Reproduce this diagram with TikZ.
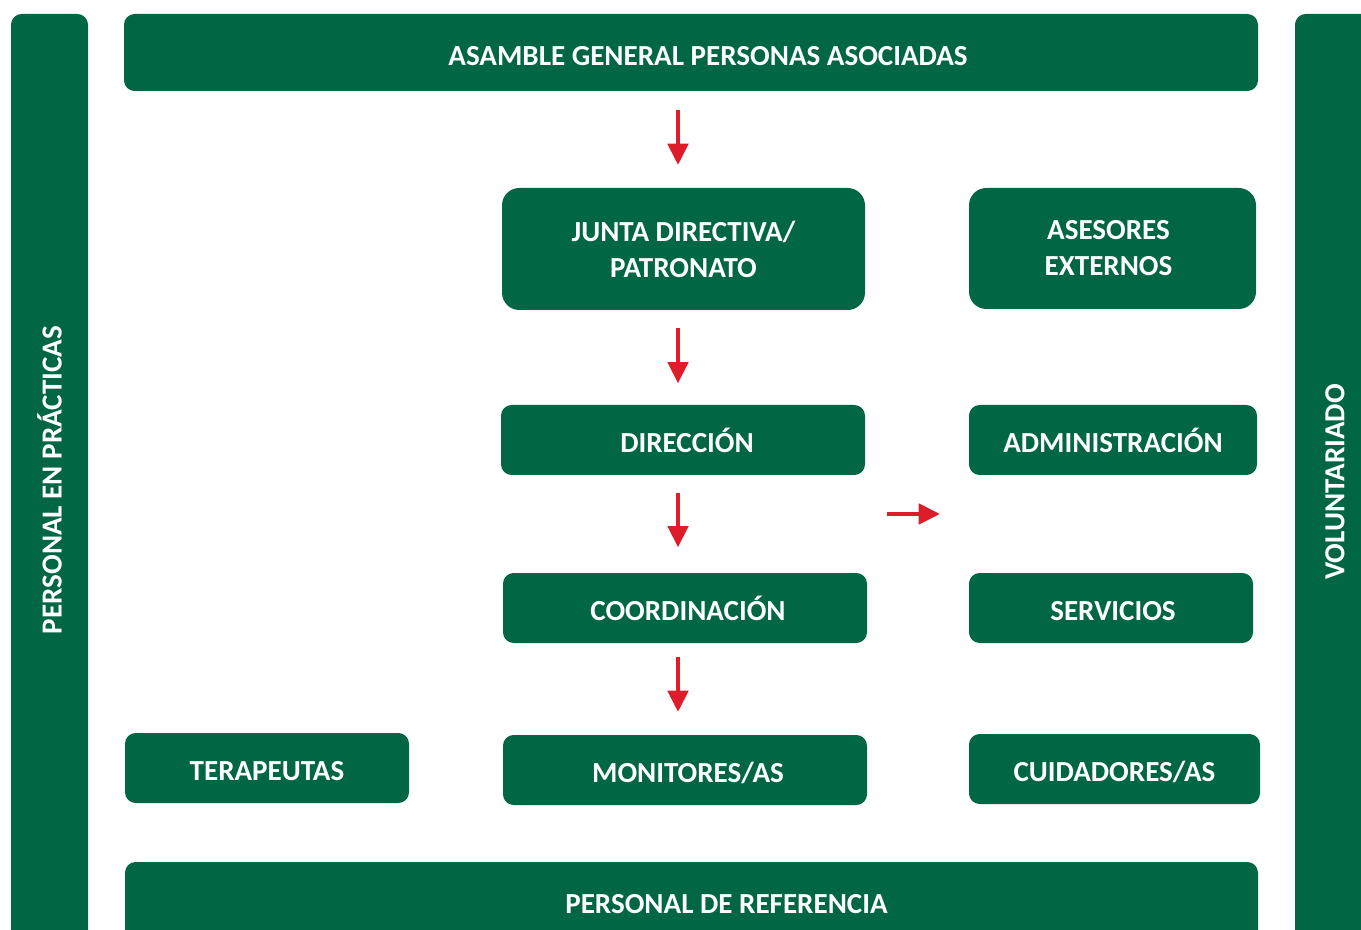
\documentclass[tikz,border=0pt]{standalone}
\usepackage{fontspec}
\setmainfont{Carlito}
\usetikzlibrary{arrows.meta}
\definecolor{verde}{RGB}{0,102,68}
\definecolor{rojo}{RGB}{221,30,42}
\tikzset{
  caja/.style={fill=verde, rounded corners=8pt, text=white, align=center,
    font=\fontsize{21.8}{27}\selectfont\bfseries, inner sep=0pt},
  linea/.style={caja, text height=19.2pt, text depth=0pt},
  flecha/.style={draw=rojo, line width=3.6pt,
    -{Triangle[width=15pt,length=16pt]}},
}
\begin{document}
\begin{tikzpicture}[x=0.75pt,y=0.75pt,yscale=-1]
	\useasboundingbox (0,0) rectangle (1361,930);
	\clip (0,0) rectangle (1361,930);
	% bandas laterales
	\node[caja, rotate=90, minimum width=699pt, minimum height=57.75pt] (practicas) at (49.5,480) {PERSONAL EN PRÁCTICAS};
	\node[caja, rotate=90, minimum width=702pt, minimum height=60pt] (voluntariado) at (1335,482) {VOLUNTARIADO};
	% bandas superior e inferior
	\node[linea, minimum width=850.5pt, minimum height=57.75pt] (asamblea) at (691,52.5) {\hspace*{25.5pt}ASAMBLE GENERAL PERSONAS ASOCIADAS};
	\node[caja, minimum width=849.75pt, minimum height=63pt] (referencia) at (691.5,904) {\hspace*{52.5pt}PERSONAL DE REFERENCIA};
	% columna central
	\node[caja, rounded corners=13pt, minimum width=272.25pt, minimum height=91.5pt] (junta) at (683.5,249) {JUNTA DIRECTIVA/\\PATRONATO};
	\node[linea, minimum width=273pt, minimum height=52.5pt] (direccion) at (683,440) {\hspace*{6pt}DIRECCIÓN};
	\node[linea, minimum width=273pt, minimum height=52.5pt] (coordinacion) at (685,608) {\hspace*{4.5pt}COORDINACIÓN};
	\node[linea, minimum width=273pt, minimum height=52.5pt] (monitores) at (685,770) {\hspace*{4.5pt}MONITORES/AS};
	% columna derecha
	\node[caja, rounded corners=13pt, minimum width=215.25pt, minimum height=90.75pt] (asesores) at (1112.5,248.5) {ASESORES\hspace*{6pt}\\EXTERNOS\hspace*{6pt}};
	\node[linea, minimum width=216pt, minimum height=52.5pt] (administracion) at (1113,440) {ADMINISTRACIÓN};
	\node[linea, minimum width=213pt, minimum height=52.5pt] (servicios) at (1111,608) {\hspace*{3pt}SERVICIOS};
	\node[linea, minimum width=218.25pt, minimum height=52.5pt] (cuidadores) at (1114.5,769) {CUIDADORES/AS};
	% columna izquierda
	\node[linea, minimum width=213pt, minimum height=52.5pt] (terapeutas) at (267,768) {TERAPEUTAS};
	% flechas
	\coordinate (ejex) at (678,0);
	\coordinate (ejey) at (0,514);
	\draw[flecha, shorten <=14pt, shorten >=17pt] (asamblea.south -| ejex) -- (junta.north -| ejex);
	\draw[flecha, shorten <=13.5pt, shorten >=16pt] (junta.south -| ejex) -- (direccion.north -| ejex);
	\draw[flecha, shorten <=13.5pt, shorten >=19pt] (direccion.south -| ejex) -- (coordinacion.north -| ejex);
	\draw[flecha, shorten <=10.5pt, shorten >=17pt] (coordinacion.south -| ejex) -- (monitores.north -| ejex);
	\draw[flecha, shorten <=16.5pt, shorten >=21.5pt] (direccion.east |- ejey) -- (administracion.west |- ejey);
\end{tikzpicture}
\end{document}
